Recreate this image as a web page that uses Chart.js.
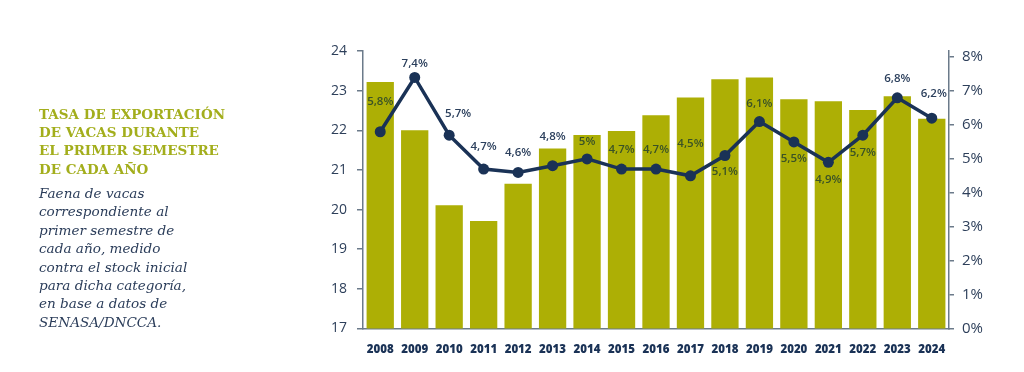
<!DOCTYPE html>
<html>
<head>
<meta charset="utf-8">
<script src="https://cdn.jsdelivr.net/npm/chart.js@4"></script>
<style>
  html, body { margin: 0; padding: 0; background: #fff; }
  #wrap { position: relative; width: 1024px; height: 372px; }
  #chart { position: absolute; left: 0; top: 0; }
  .title { position: absolute; left: 39px; top: 105px; font-family: "DejaVu Serif"; font-weight: bold; font-size: 13.5px; line-height: 18.2px; color: #a3ae1c; }
  .sub { position: absolute; left: 39px; top: 184px; font-family: "DejaVu Serif"; font-style: italic; font-size: 13.6px; line-height: 18.4px; color: #2b3d5a; }
</style>
</head>
<body>
<div id="wrap">
  <canvas id="chart" width="1024" height="372"></canvas>
  <div class="title">TASA DE EXPORTACIÓN<br>DE VACAS DURANTE<br>EL PRIMER SEMESTRE<br>DE CADA AÑO</div>
  <div class="sub">Faena de vacas<br>correspondiente al<br>primer semestre de<br>cada año, medido<br>contra el stock inicial<br>para dicha categoría,<br>en base a datos de<br>SENASA/DNCCA.</div>
</div>
<script>
const years = ['2008','2009','2010','2011','2012','2013','2014','2015','2016','2017','2018','2019','2020','2021','2022','2023','2024']
const barValues = [23.22, 22.0, 20.11, 19.71, 20.65, 21.54, 21.88, 21.98, 22.38, 22.83, 23.29, 23.33, 22.78, 22.73, 22.51, 22.86, 22.29]
const rateValues = [5.8, 7.4, 5.7, 4.7, 4.6, 4.8, 5, 4.7, 4.7, 4.5, 5.1, 6.1, 5.5, 4.9, 5.7, 6.8, 6.2]
const rateTicks = [0, 1, 2, 3, 4, 5, 6, 7, 8]

const navy = "#1a3256"
const axisGrey = "#6b7a8a"
const tickColor = "#2d3f5a"

// labels next to the line points
const pointLabels = {
    id: "pointLabels",
    afterDatasetsDraw(chart, args, opts) {
        const ctx = chart.ctx
        const line = chart.getDatasetMeta(1)
        const bars = chart.getDatasetMeta(0)
        ctx.save()
        ctx.font = "600 11.5px 'Open Sans'"
        ctx.textAlign = "center"
        ctx.textBaseline = "middle"
        line.data.forEach((pt, i) => {
            const dy = opts.dy[i], dx = opts.dx[i] || 0
            const x = pt.x + dx, y = pt.y + dy
            const bar = bars.data[i]
            const onBar = y > bar.y && Math.abs(x - bar.x) < bar.width / 2
            ctx.fillStyle = onBar ? "#3a5226" : "#2b3f5c"
            ctx.fillText(String(rateValues[i]).replace(".", ",") + "%", x, y)
        })
        ctx.restore()
    }
}

new Chart("chart", {
    type: "bar",
    data: {
        labels: years,
        datasets: [{
            type: "bar",
            data: barValues,
            backgroundColor: "#adaf05",
            barPercentage: 0.88,
            categoryPercentage: 0.9,
            yAxisID: "y",
            order: 1,
        }, {
            type: "line",
            data: rateValues,
            borderColor: navy,
            backgroundColor: navy,
            borderWidth: 3.5,
            pointRadius: 5.5,
            pointBackgroundColor: navy,
            pointBorderWidth: 0,
            tension: 0,
            yAxisID: "y1",
            order: 0,
        }]
    },
    options: {
        responsive: false,
        animation: false,
        layout: { padding: { left: 315, right: 15, top: 51, bottom: 0 } },
        plugins: {
            legend: { display: false },
            tooltip: { enabled: false },
            pointLabels: {
                dy: [-30, -14, -21, -22, -20, -29, -17, -19, -19, -32, 16, -18, 17, 17, 18, -19, -24],
                dx: [0, 0, 9, 0, 0, 0, 0, 0, 0, 0, 0, 0, 0, 0, 0, 0, 2],
            }
        },
        scales: {
            x: {
                grid: { display: false },
                border: { color: axisGrey, width: 1.5 },
                ticks: { color: navy, font: { family: "Open Sans", weight: "800", size: 11.5 }, padding: 6, maxRotation: 0, autoSkip: false },
                afterFit(s) { s.height = 43.5 },
            },
            y: {
                position: "left",
                min: 17,
                max: 24,
                ticks: { stepSize: 1, color: tickColor, font: { family: "Open Sans", size: 14 }, padding: 10 },
                grid: { drawOnChartArea: false, color: axisGrey, tickLength: 6, lineWidth: 1.5 },
                border: { color: axisGrey, width: 1.5 },
                afterFit(s) { s.width = 48 },
            },
            y1: {
                position: "right",
                min: 0,
                max: 8.18,
                afterBuildTicks(s) { s.ticks = rateTicks.map(v => ({ value: v })) },
                ticks: { color: tickColor, font: { family: "Open Sans", size: 15 }, padding: 8, callback: v => v + "%" },
                grid: { drawOnChartArea: false, color: axisGrey, tickLength: 5, lineWidth: 1.5 },
                border: { color: axisGrey, width: 1.5 },
                afterFit(s) { s.width = 60 },
            }
        }
    },
    plugins: [pointLabels]
})
</script>
</body>
</html>
